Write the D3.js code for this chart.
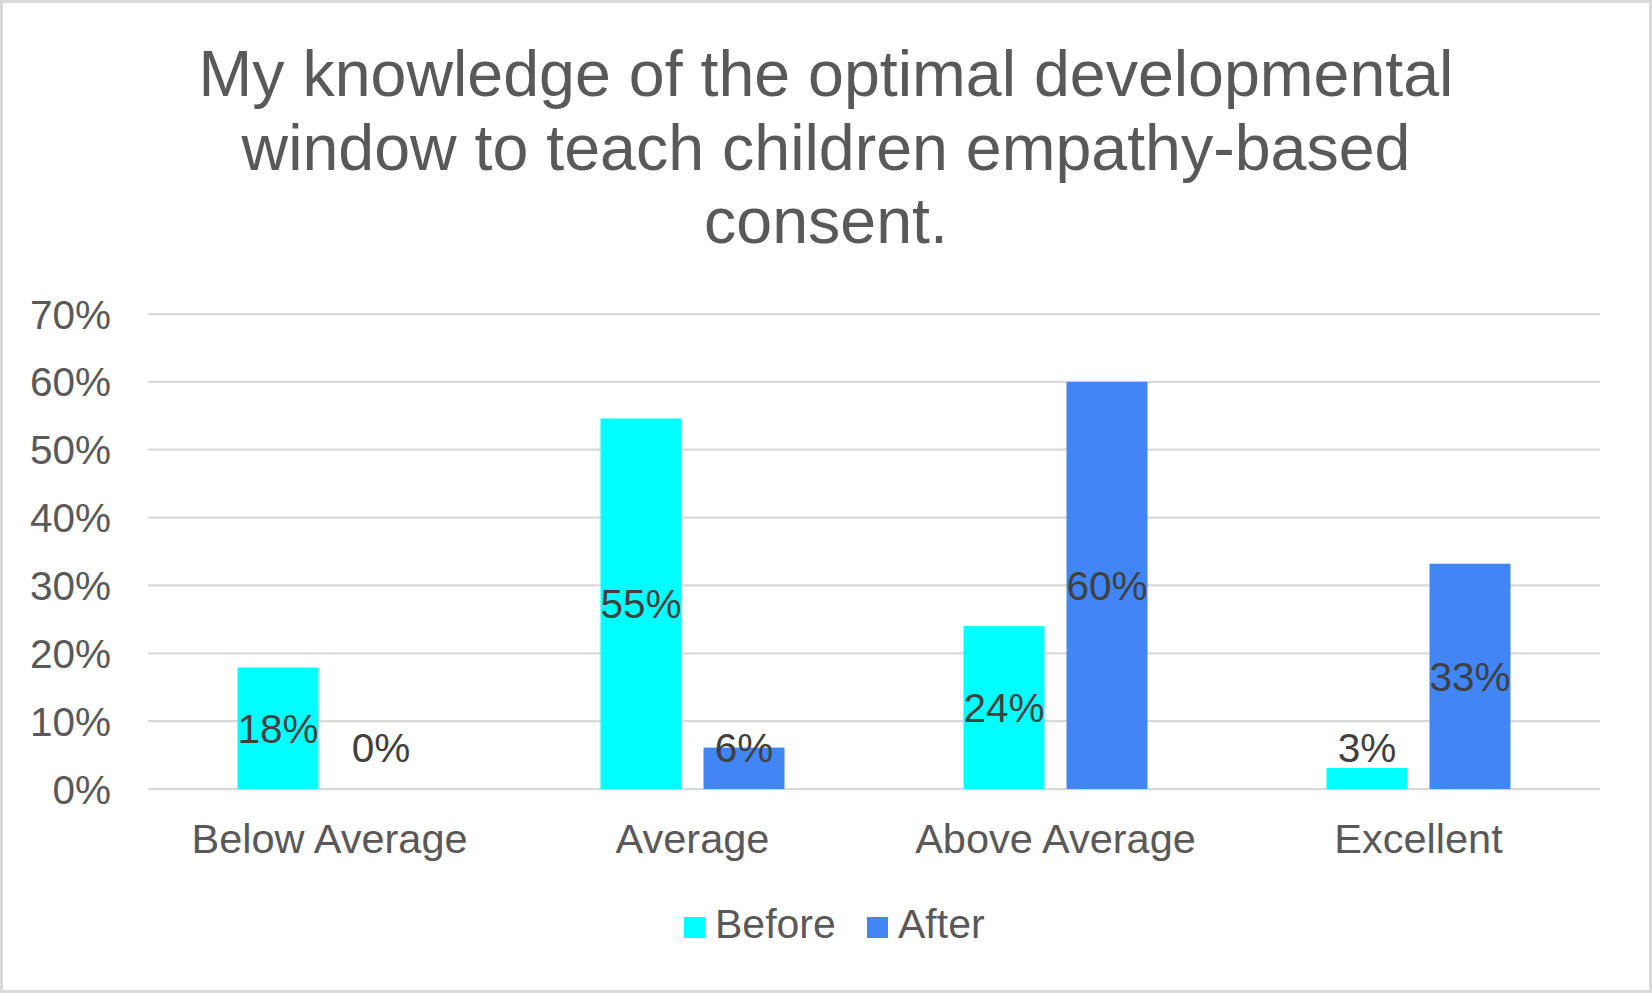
<!DOCTYPE html>
<html>
<head>
<meta charset="utf-8">
<script src="https://cdn.jsdelivr.net/npm/d3@7"></script>
<style>
  body { margin: 0; background: #fff; }
  text { font-family: "Liberation Sans", Arial, sans-serif; }
</style>
</head>
<body>
<div id="chartView"></div>
<script>
// chart data
var titleLines = ["My knowledge of the optimal developmental",
    "window to teach children empathy-based", "consent."];
var categories = ["Below Average", "Average", "Above Average", "Excellent"];
var seriesNames = ["Before", "After"];
var beforeValues = [0.179, 0.546, 0.24, 0.031];
var afterValues = [0, 0.061, 0.60, 0.332];
var yTicks = [0, 0.1, 0.2, 0.3, 0.4, 0.5, 0.6, 0.7];
var seriesColors = ["#00FFFF", "#4285F4"];

var width = 1652,
    height = 993;

var svg = d3.select("#chartView")
    .append("svg")
    .attr("width", width)
    .attr("height", height);

// outer frame
svg.append("rect")
    .attr("x", 1.5)
    .attr("y", 1.5)
    .attr("width", width - 3)
    .attr("height", height - 3)
    .attr("fill", "#fff")
    .attr("stroke", "#d9d9d9")
    .attr("stroke-width", 3);

// title
svg.append("text")
    .attr("text-anchor", "middle")
    .attr("fill", "#595959")
    .attr("font-size", 64.5)
    .selectAll("tspan")
    .data(titleLines)
    .enter()
    .append("tspan")
    .attr("x", width / 2)
    .attr("y", function(d, i) { return 96 + i * 73.5; })
    .text(function(d) { return d; });

var plotLeft = 148,
    plotRight = 1600,
    plotTop = 314,
    plotBottom = 789;

var y = d3.scaleLinear()
    .domain([0, 0.7])
    .range([plotBottom, plotTop]);

var x0 = d3.scaleBand()
    .domain(categories)
    .range([plotLeft, plotRight])
    .padding(0);

var x1 = d3.scaleBand()
    .domain(seriesNames)
    .range([0, x0.bandwidth()])
    .paddingInner(0.2136)
    .paddingOuter(0.869);

// gridlines
svg.append("g")
    .selectAll("line")
    .data(yTicks)
    .enter()
    .append("line")
    .attr("x1", plotLeft)
    .attr("x2", plotRight)
    .attr("y1", function(d) { return y(d); })
    .attr("y2", function(d) { return y(d); })
    .attr("stroke", "#d9d9d9")
    .attr("stroke-width", 2.25);

// y axis labels
var pct = d3.format(".0%");
svg.append("g")
    .selectAll("text")
    .data(yTicks)
    .enter()
    .append("text")
    .attr("x", 111)
    .attr("y", function(d) { return y(d); })
    .attr("dy", "0.36em")
    .attr("text-anchor", "end")
    .attr("fill", "#595959")
    .attr("font-size", 40.5)
    .text(function(d) { return pct(d); });

var rows = categories.map(function(c, i) {
    return {
        cat: c,
        vals: [
            { name: seriesNames[0], value: beforeValues[i] },
            { name: seriesNames[1], value: afterValues[i] }
        ]
    };
});

var group = svg.append("g")
    .selectAll("g")
    .data(rows)
    .enter()
    .append("g")
    .attr("transform", function(d) {
        return "translate(" + x0(d.cat) + ",0)";
    });

group.selectAll("rect")
    .data(function(d) { return d.vals; })
    .enter()
    .append("rect")
    .attr("x", function(d) { return x1(d.name); })
    .attr("y", function(d) { return y(d.value); })
    .attr("width", x1.bandwidth())
    .attr("height", function(d) { return y(0) - y(d.value); })
    .attr("fill", function(d, i) { return seriesColors[i]; });

// data labels, centred in the bar but kept off the baseline
group.selectAll("text")
    .data(function(d) { return d.vals; })
    .enter()
    .append("text")
    .attr("x", function(d) { return x1(d.name) + x1.bandwidth() / 2; })
    .attr("y", function(d) {
        var mid = (y(d.value) + y(0)) / 2;
        return Math.min(mid, y(0) - 42);
    })
    .attr("dy", "0.36em")
    .attr("text-anchor", "middle")
    .attr("fill", "#404040")
    .attr("font-size", 40.5)
    .text(function(d) { return pct(d.value); });

// category labels
svg.append("g")
    .selectAll("text")
    .data(categories)
    .enter()
    .append("text")
    .attr("x", function(d) { return x0(d) + x0.bandwidth() / 2; })
    .attr("y", 853)
    .attr("text-anchor", "middle")
    .attr("fill", "#595959")
    .attr("font-size", 41.5)
    .text(function(d) { return d; });

// legend
var legendX = [684, 867];
var legend = svg.append("g")
    .selectAll("g")
    .data(seriesNames)
    .enter()
    .append("g")
    .attr("transform", function(d, i) {
        return "translate(" + legendX[i] + ",917)";
    });
legend.append("rect")
    .attr("width", 21)
    .attr("height", 21)
    .attr("fill", function(d, i) { return seriesColors[i]; });
legend.append("text")
    .attr("x", 31)
    .attr("y", 21)
    .attr("fill", "#595959")
    .attr("font-size", 41)
    .text(function(d) { return d; });
</script>
</body>
</html>
